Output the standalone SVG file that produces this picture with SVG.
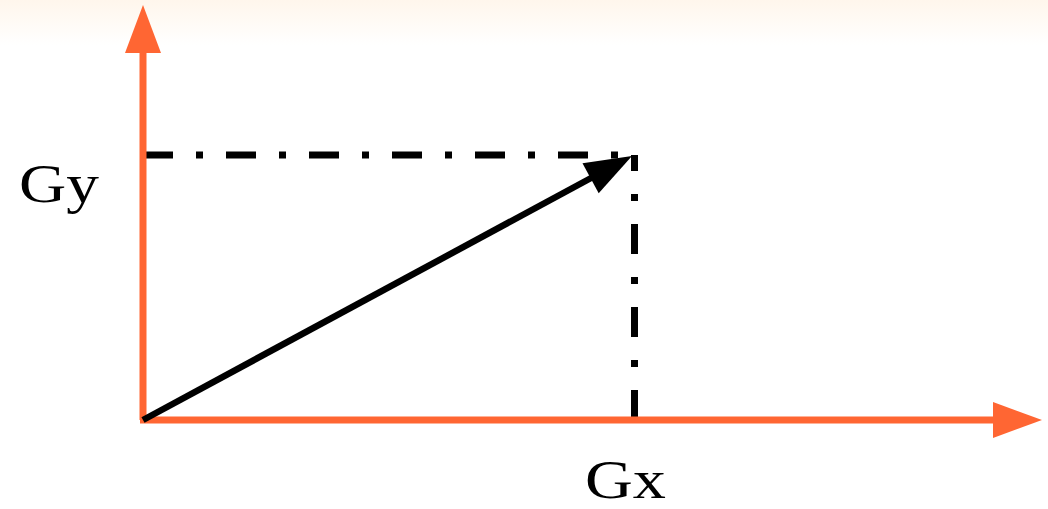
<svg xmlns="http://www.w3.org/2000/svg" width="1048" height="509" viewBox="0 0 1048 509">
  <defs>
    <linearGradient id="bg" x1="0" y1="0" x2="0" y2="1">
      <stop offset="0" stop-color="#FFF6EC"/>
      <stop offset="1" stop-color="#FFFFFF"/>
    </linearGradient>
  </defs>
  <style>
    .axis { stroke: #FF6633; stroke-width: 7; fill: none; }
    .axishead { fill: #FF6633; }
    .dash { stroke: #000; stroke-width: 7; fill: none; stroke-dasharray: 30 23 7 23; }
    .vec { stroke: #000; stroke-width: 6.5; fill: none; }
    .lbl { font-family: "Liberation Serif", "DejaVu Serif", serif; font-size: 55px; fill: #000; }
  </style>
  <rect x="0" y="0" width="1048" height="509" fill="#FFFFFF"/>
  <rect x="0" y="0" width="1048" height="45" fill="url(#bg)"/>
  <g id="connectors">
    <line class="dash" x1="143" y1="155" x2="632" y2="155"/>
    <line class="dash" x1="634.5" y1="420" x2="634.5" y2="155"/>
    <line class="axis" x1="143" y1="420" x2="143" y2="52"/>
    <polygon class="axishead" points="143,5 125,53 161,53"/>
    <line class="axis" x1="140" y1="420" x2="994" y2="420"/>
    <polygon class="axishead" points="1042,420 993,402 993,438"/>
    <line class="vec" x1="143" y1="420" x2="592" y2="177.5"/>
    <polygon points="632,156 582.5,163.3 598.7,193.3" fill="#000"/>
  </g>
  <g id="label-gy">
    <text class="lbl" x="19" y="202" textLength="80" lengthAdjust="spacingAndGlyphs">Gy</text>
  </g>
  <g id="label-gx">
    <text class="lbl" x="585" y="498" textLength="81" lengthAdjust="spacingAndGlyphs">Gx</text>
  </g>
</svg>
